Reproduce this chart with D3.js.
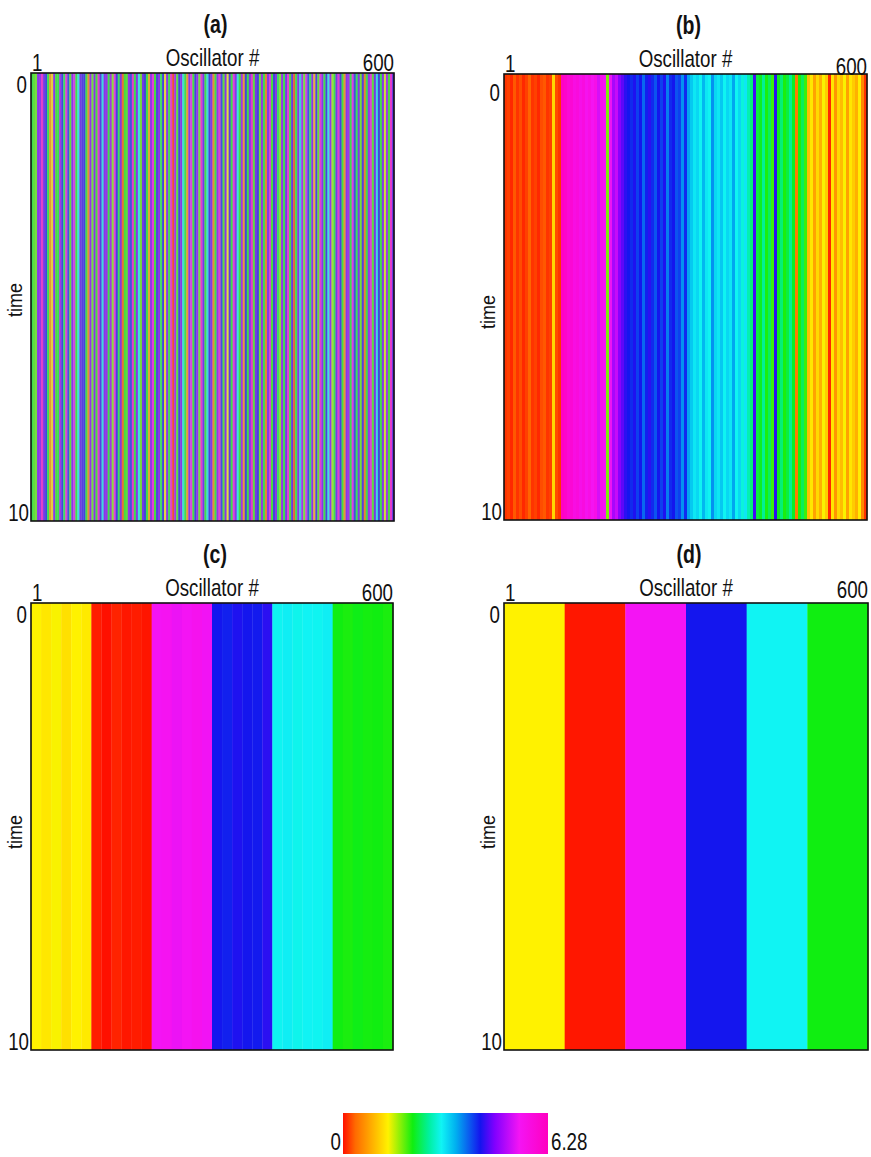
<html>
<head>
<meta charset='utf-8'>
<script src='https://cdnjs.cloudflare.com/ajax/libs/d3/7.8.5/d3.min.js'></script>
<style>
body { margin: 0; background: white; }
text { font-family: 'Liberation Sans', Arial, sans-serif; fill: #111; }
</style>
</head>
<body>
<svg width='871' height='1157'></svg>
<script>
// colour map: phase 0 .. 2*pi
const cmapStops = [0, 0.06, 0.22, 0.34, 0.42, 0.48, 0.55, 0.67, 0.74, 0.86, 1]
const cmapColors = ['#ff1000', '#ff6a00', '#fff200', '#10ee10', '#00f0a0', '#10f4f4', '#00b0f0', '#1414ee', '#8000ff', '#f414f4', '#ff00c0']
const phaseMax = 6.28

// phase of each group of oscillators (columns left to right)
const phasesA = [2.2,2.0,1.9,4.6,4.7,5.9,4.5,4.2,2.2,0.6,1.2,4.6,2.1,2.2,4.8,4.2,2.3,5.8,4.1,2.0,
  4.6,5.3,2.2,3.0,4.5,4.3,4.2,2.2,0.5,4.7,1.9,4.6,2.1,5.9,4.3,3.1,4.6,4.7,2.2,4.8,
  1.8,5.5,4.2,2.3,4.6,0.3,2.1,2.0,4.7,4.1,5.9,2.2,4.6,3.0,1.9,4.5,4.2,2.2,0.8,4.7,
  5.6,2.1,4.3,4.6,2.3,4.2,1.3,4.6,2.2,5.9,0.1,4.8,2.0,4.2,4.6,2.9,2.2,0.6,4.6,5.4,
  2.1,4.2,4.7,1.9,5.9,4.5,2.2,3.1,4.2,4.6,0.5,2.2,4.7,5.8,4.1,2.0,4.6,1.4,4.3,2.2,
  5.5,4.6,3.0,2.1,4.8,0.7,4.2,2.2,4.6,5.9,2.0,4.5,4.2,1.9,4.7,2.2,0.4,4.6,5.3,2.1,
  4.2,4.6,2.3,1.8,4.7,2.2,4.5,5.7,2.1,4.4,0.2,2.2,4.6,3.2,4.8,1.9,5.2,4.1,2.3,4.6,
  0.9,4.3,2.0,5.8,4.6,2.2,4.2,3.0,4.7,1.7,2.2,4.5,5.9,4.2,2.1,0.6,4.6,4.8,2.2,5.4,
  4.1,2.3,4.6,1.9,4.3,0.4,2.2,4.7,5.6,2.0,4.5,3.1,4.2,2.2,4.6,1.5,4.8,2.1,5.9,4.4]

const phasesB = [0.15,0.2,0.1,0.3,0.15,0.25,0.1,0.2,0.35,0.15,0.2,0.1,0.25,0.3,0.15,0.2,1.2,0.25,0.15,
  6.2,6.1,5.9,5.95,5.7,5.8,5.6,5.75,5.5,5.65,5.45,5.6,5.2,5.55,5.4,1.8,5.35,4.9,5.1,
  4.7,4.5,4.3,4.2,4.1,4.25,4.0,4.2,3.8,4.15,4.3,4.1,3.9,4.2,4.0,4.25,3.7,4.1,4.2,3.9,4.0,3.6,4.1,
  3.5,3.3,3.1,3.2,3.0,3.4,3.1,3.0,3.6,3.2,3.1,3.3,3.0,3.2,3.1,3.5,3.0,3.2,2.9,3.1,
  2.7,2.5,4.4,2.3,2.2,2.6,2.1,2.4,2.0,4.3,2.2,2.5,2.1,2.3,2.6,2.2,0.5,2.1,2.4,2.0,
  1.0,1.3,0.8,1.2,0.9,1.4,1.1,0.1,1.3,0.7,1.2,1.0,1.4,0.8,1.3,1.1,0.9,1.35,0.6,0.15]

const phasesC = [1.38,1.3,1.4,1.25,1.38,1.32,
  0.05,0.0,0.08,0.03,0.05,0.02,
  5.4,5.45,5.35,5.4,5.5,5.38,
  4.2,4.15,4.25,4.2,4.18,4.3,
  3.0,3.05,2.98,3.02,3.0,3.05,
  2.14,2.1,2.16,2.12,2.14,2.1]

const phasesD = [1.38, 0.03, 5.4, 4.2, 3.01, 2.14]

const panelNames = ['(a)', '(b)', '(c)', '(d)']
const xTickLabels = ['1', '600']
const yTickLabels = ['0', '10']
const xLabel = 'Oscillator #'
const yLabel = 'time'
const nOsc = 600
const tMax = 10

const color = d3.scaleLinear()
  .domain(cmapStops.map(s => s * phaseMax))
  .range(cmapColors)
  .clamp(true)

const svg = d3.select('svg')

// narrow text like the original figure
function label(g, x, y, str, anchor, size, bold) {
  return g.append('text')
    .attr('transform', `translate(${x},${y}) scale(0.78,1)`)
    .attr('text-anchor', anchor || 'start')
    .attr('font-size', size || 24)
    .attr('font-weight', bold ? 'bold' : 'normal')
    .text(str)
}

// layout of the four panels
const layout = [
  {x0: 31, x1: 394, y0: 73, y1: 521, data: phasesA, mute: true, zeroDy: 0, endDy: 0, timeY: 300},
  {x0: 504, x1: 867, y0: 74, y1: 520, data: phasesB, mute: false, zeroDy: 7, endDy: 3, timeY: 312},
  {x0: 31, x1: 393, y0: 603, y1: 1050, data: phasesC, mute: false, zeroDy: 0, endDy: 0, timeY: 832},
  {x0: 504, x1: 868, y0: 603, y1: 1050, data: phasesD, mute: false, zeroDy: 0, endDy: -3, timeY: 832}
]

layout.forEach((p, k) => {
  const g = svg.append('g')
  const x = d3.scaleLinear().domain([0, nOsc]).range([p.x0, p.x1])
  const y = d3.scaleLinear().domain([0, tMax]).range([p.y0, p.y1])
  const step = nOsc / p.data.length

  g.selectAll('rect.col').data(p.data).enter().append('rect')
    .attr('class', 'col')
    .attr('x', (d, i) => x(i * step))
    .attr('width', (d, i) => x((i + 1) * step) - x(i * step) + 0.3)
    .attr('y', y(0))
    .attr('height', y(tMax) - y(0))
    .attr('fill', d => color(d))

  if (p.mute) {
    // averaged look of the dense random panel
    g.append('rect')
      .attr('x', x(0)).attr('y', y(0))
      .attr('width', x(nOsc) - x(0)).attr('height', y(tMax) - y(0))
      .attr('fill', '#b4b4b4').attr('opacity', 0.3)
  }

  g.append('rect')
    .attr('x', x(0)).attr('y', y(0))
    .attr('width', x(nOsc) - x(0)).attr('height', y(tMax) - y(0))
    .attr('fill', 'none').attr('stroke', '#111').attr('stroke-width', 1.6)

  const cx = (p.x0 + p.x1) / 2
  label(g, cx + 3, p.y0 - 40, panelNames[k], 'middle', 25, true)
  label(g, cx, p.y0 - 7, xLabel, 'middle')
  label(g, x(0) + 1, p.y0 - 2, xTickLabels[0])
  label(g, x(nOsc), p.y0 - 2 + p.endDy, xTickLabels[1], 'end')
  label(g, x(0) - 4, y(0) + 20 + p.zeroDy, yTickLabels[0], 'end')
  label(g, x(0) - 2, y(tMax), yTickLabels[1], 'end')

  g.append('text')
    .attr('transform', `translate(${x(0) - 9},${p.timeY}) rotate(-90) scale(0.9,1)`)
    .attr('text-anchor', 'middle')
    .attr('font-size', 20)
    .text(yLabel)
})

// colour bar
const barX = d3.scaleLinear().domain([0, phaseMax]).range([343, 548])
const defs = svg.append('defs')
const grad = defs.append('linearGradient').attr('id', 'cbar')
grad.selectAll('stop').data(cmapStops).enter().append('stop')
  .attr('offset', d => d * 100 + '%')
  .attr('stop-color', (d, i) => cmapColors[i])

svg.append('rect')
  .attr('x', barX(0)).attr('y', 1113)
  .attr('width', barX(phaseMax) - barX(0)).attr('height', 41)
  .attr('fill', 'url(#cbar)')

label(svg, barX(0) - 2, 1150, '0', 'end')
label(svg, barX(phaseMax) + 3, 1150, phaseMax.toFixed(2))
</script>
</body>
</html>
